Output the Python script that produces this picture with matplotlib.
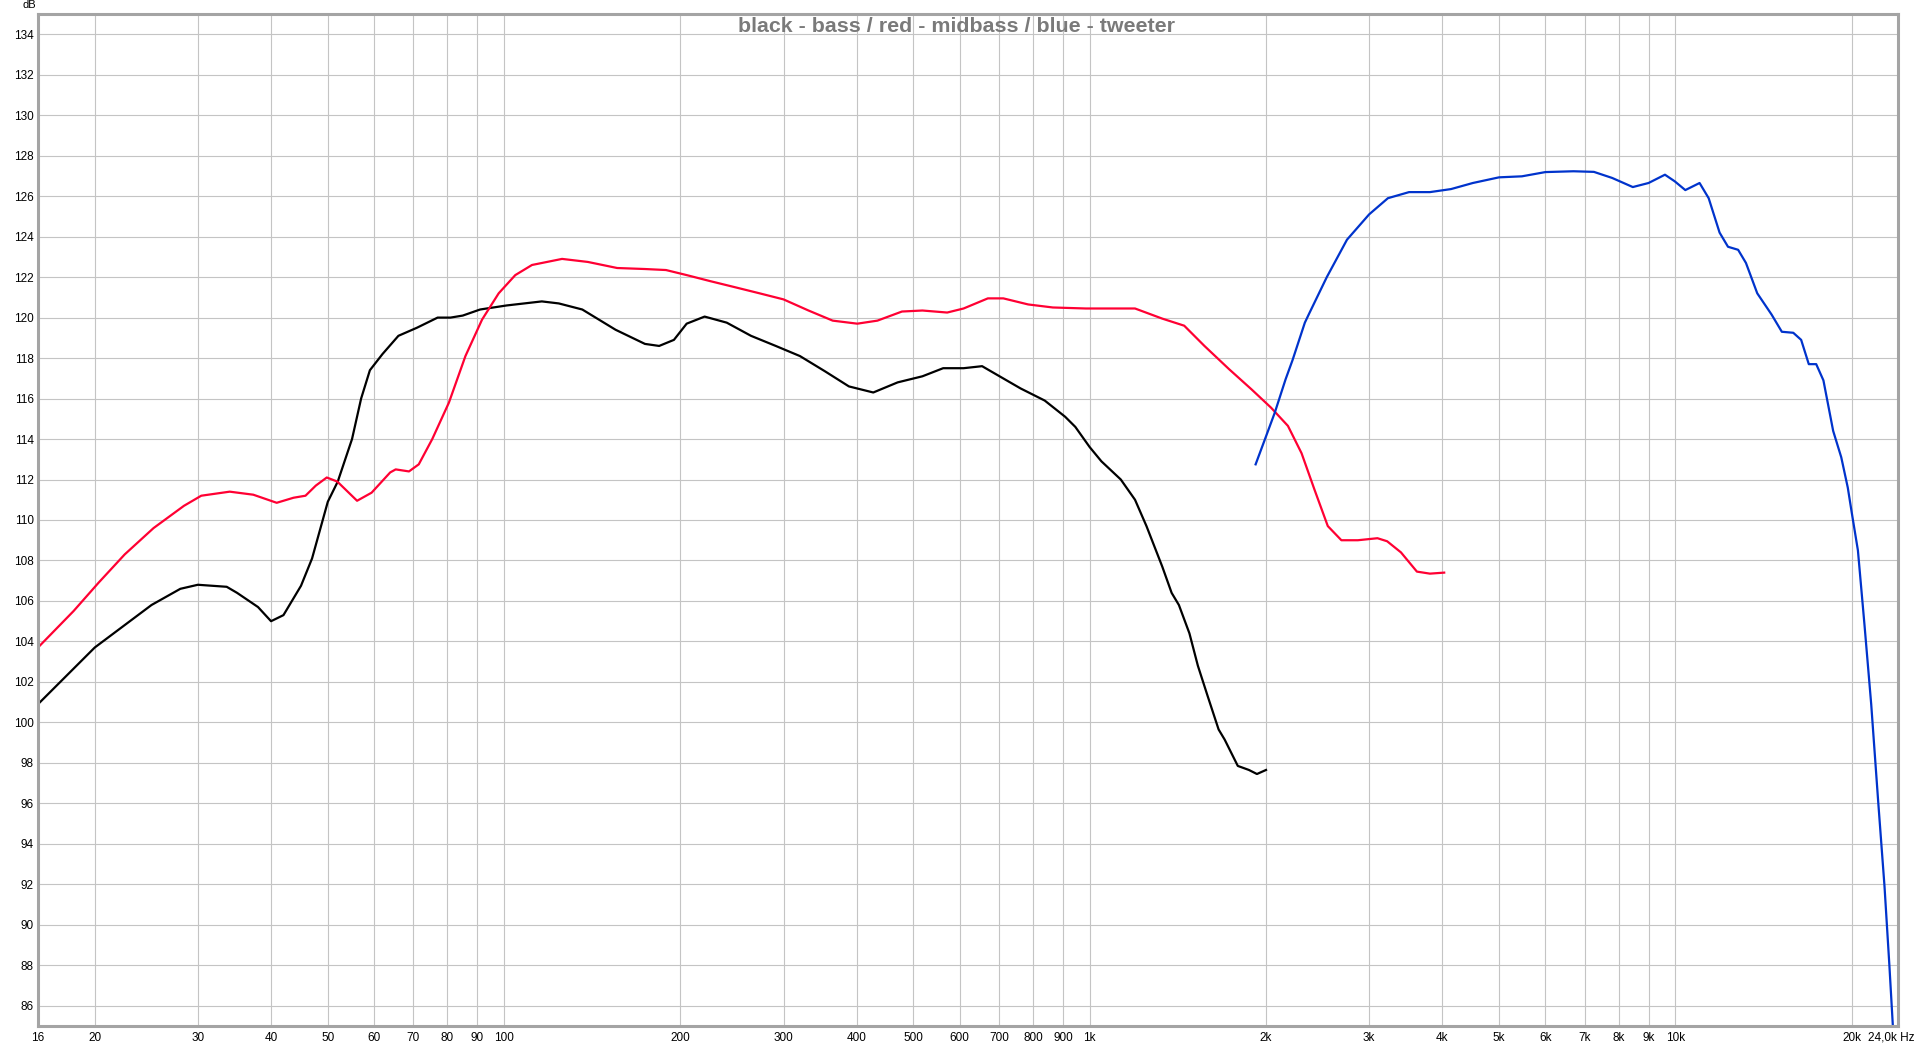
import matplotlib
matplotlib.use("Agg")
import matplotlib.pyplot as plt
from matplotlib.ticker import FixedLocator, NullLocator, FixedFormatter

# bass (black)
bass_f = [16, 20, 25, 28, 30, 33.6, 35, 38, 40, 42, 45, 47, 50, 52, 55, 57, 59, 62, 66, 71, 77,
          81, 85, 91, 101, 116, 124, 136, 155, 174, 184, 195, 205, 220, 240, 264, 291, 320, 353,
          388, 427, 470, 518, 562, 609, 655, 692, 762, 838, 908, 945, 1000, 1047, 1130, 1195,
          1250, 1330, 1380, 1420, 1480, 1530, 1590, 1660, 1700, 1790, 1870, 1930, 2000]
bass_db = [100.9, 103.7, 105.8, 106.6, 106.8, 106.7, 106.4, 105.7, 105.0, 105.3, 106.75, 108.1,
           110.9, 111.9, 114.0, 116.0, 117.4, 118.2, 119.1, 119.5, 120.0, 120.0, 120.1, 120.4,
           120.6, 120.8, 120.7, 120.4, 119.4, 118.7, 118.6, 118.9, 119.7, 120.05, 119.75, 119.1,
           118.6, 118.1, 117.35, 116.6, 116.3, 116.8, 117.1, 117.5, 117.5, 117.6, 117.2, 116.5,
           115.9, 115.1, 114.6, 113.6, 112.9, 112.0, 111.0, 109.7, 107.7, 106.4, 105.8, 104.4,
           102.8, 101.3, 99.65, 99.15, 97.85, 97.65, 97.45, 97.65]

# midbass (red)
mid_f = [16, 18.4, 20.3, 22.5, 25.2, 28.4, 30.4, 34, 37.3, 40.9, 43.7, 45.8, 47.7, 49.8, 51.9,
         56.1, 59.4, 63.9, 65.3, 68.8, 71.5, 75.4, 80.5, 85.9, 91.7, 97.9, 104.5, 111.6, 125.6,
         139, 156, 174, 189, 205, 225, 248, 273, 300, 331, 364, 401, 434, 478, 518, 571, 609,
         670, 712, 785, 865, 985, 1080, 1195, 1330, 1450, 1570, 1730, 1890, 2040, 2180, 2300,
         2420, 2550, 2690, 2870, 3100, 3220, 3400, 3620, 3810, 4030]
mid_db = [103.7, 105.5, 106.9, 108.3, 109.6, 110.7, 111.2, 111.4, 111.25, 110.85, 111.1, 111.2,
          111.7, 112.1, 111.9, 110.95, 111.35, 112.35, 112.5, 112.4, 112.75, 114.0, 115.8, 118.1,
          119.9, 121.2, 122.1, 122.6, 122.9, 122.75, 122.45, 122.4, 122.35, 122.1, 121.8, 121.5,
          121.2, 120.9, 120.35, 119.85, 119.7, 119.85, 120.3, 120.35, 120.25, 120.45, 120.95,
          120.95, 120.65, 120.5, 120.45, 120.45, 120.45, 119.95, 119.6, 118.6, 117.45, 116.45,
          115.55, 114.65, 113.3, 111.5, 109.7, 109.0, 109.0, 109.1, 108.95, 108.4, 107.45,
          107.35, 107.4]

# tweeter (blue)
tw_f = [1920, 2010, 2070, 2160, 2220, 2330, 2370, 2540, 2750, 3000, 3230, 3510, 3810, 4140,
        4510, 5000, 5470, 6000, 6700, 7260, 7800, 8460, 9000, 9600, 9980, 10400, 11000, 11400,
        11900, 12300, 12800, 13200, 13800, 14600, 15200, 15900, 16400, 16900, 17400, 17900,
        18600, 19200, 19700, 20000, 20500, 21040, 21600, 22200, 22760, 23200, 23520, 23700]
tw_db = [112.75, 114.3, 115.3, 116.95, 117.9, 119.75, 120.2, 122.0, 123.85, 125.1, 125.9, 126.2,
         126.2, 126.35, 126.65, 126.93, 126.98, 127.19, 127.23, 127.2, 126.9, 126.45, 126.65,
         127.06, 126.73, 126.3, 126.65, 125.9, 124.2, 123.5, 123.35, 122.7, 121.2, 120.15,
         119.3, 119.25, 118.9, 117.7, 117.7, 116.9, 114.4, 113.1, 111.6, 110.4, 108.5, 104.8,
         100.9, 96.1, 91.9, 88.0, 85.0, 84.0]

x_ticks = [16, 20, 30, 40, 50, 60, 70, 80, 90, 100, 200, 300, 400, 500, 600, 700, 800, 900,
           1000, 2000, 3000, 4000, 5000, 6000, 7000, 8000, 9000, 10000, 20000, 24000]
x_labels = ["16", "20", "30", "40", "50", "60", "70", "80", "90", "100", "200", "300", "400",
            "500", "600", "700", "800", "900", "1k", "2k", "3k", "4k", "5k", "6k", "7k", "8k",
            "9k", "10k", "20k", ""]
y_ticks = list(range(86, 135, 2))

plt.rcParams['font.family'] = ['Liberation Sans', 'DejaVu Sans']

fig = plt.figure(figsize=(19.16, 10.46), dpi=100)
ax = fig.add_axes([38 / 1916, 20 / 1046, 1860 / 1916, 1012 / 1046])

ax.plot(bass_f, bass_db, color="black", linewidth=1.6)
ax.plot(mid_f, mid_db, color="#ff0033", linewidth=1.6)
ax.plot(tw_f, tw_db, color="#0033cc", linewidth=1.6)

ax.set_xscale("log")
ax.set_xlim(16, 24000)
ax.set_ylim(85, 135)
ax.xaxis.set_major_locator(FixedLocator(x_ticks))
ax.xaxis.set_major_formatter(FixedFormatter(x_labels))
ax.xaxis.set_minor_locator(NullLocator())
ax.set_yticks(y_ticks)
ax.tick_params(axis="both", length=0, labelsize=8.5, colors="black")
ax.tick_params(axis="x", pad=4)
ax.tick_params(axis="y", pad=3)

ax.grid(True, color="#c4c4c4", linewidth=0.8)
ax.set_axisbelow(True)
for s in ax.spines.values():
    s.set_color("#a4a4a4")
    s.set_linewidth(2.2)

# last x label sits against the right edge
fig.text(1914 / 1916, 1 - 1031 / 1046, "24,0k Hz", ha="right", va="top", fontsize=8.5)

fig.text(957 / 1916, 1 - 27 / 1046, "black - bass / red - midbass / blue - tweeter",
         ha="center", va="center", fontsize=15.4, fontweight="bold", color="#7a7a7a")
fig.text(29 / 1916, 1 - 5 / 1046, "dB", ha="center", va="center", fontsize=8)

fig.savefig("out.png", dpi=100, facecolor="white")
